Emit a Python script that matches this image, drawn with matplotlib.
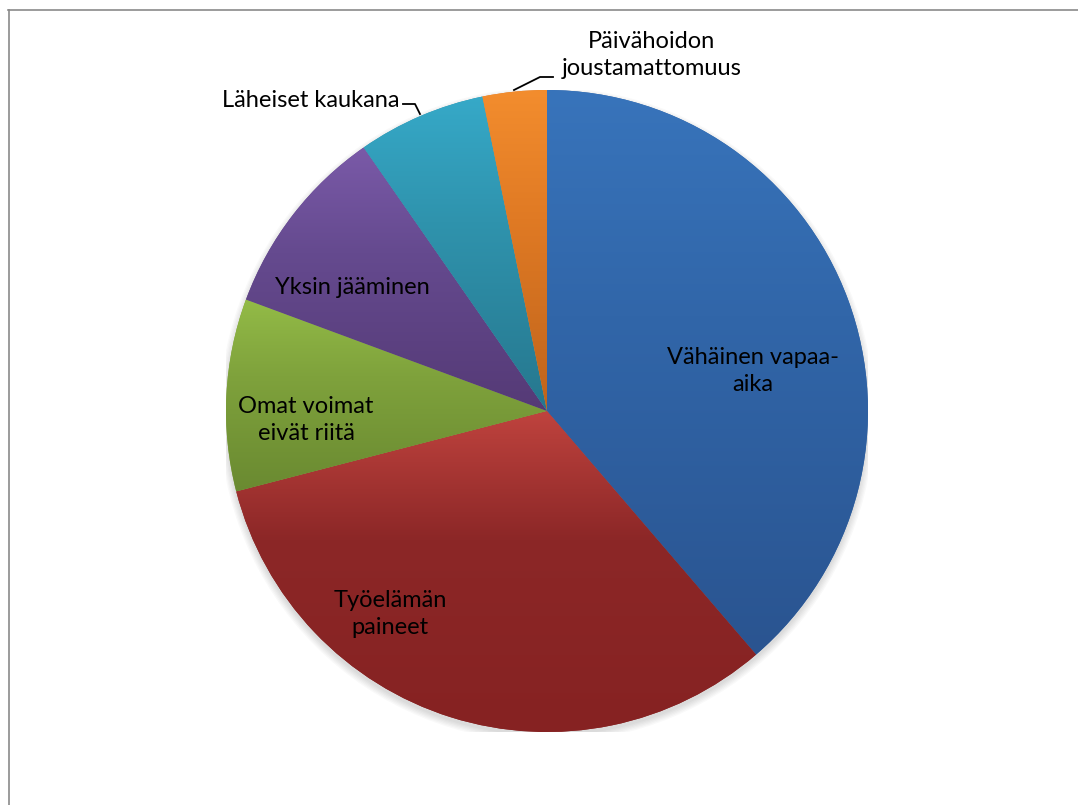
import numpy as np
import matplotlib
matplotlib.use("Agg")
import matplotlib.pyplot as plt
from matplotlib.lines import Line2D
from matplotlib.patches import Circle
from matplotlib.colors import to_rgb

# ---- data ----
categories = ["Vähäinen vapaa-\naika", "Työelämän\npaineet", "Omat voimat\neivät riitä",
              "Yksin jääminen", "Läheiset kaukana", "Päivähoidon\njoustamattomuus"]
values = [12, 10, 3, 3, 2, 1]

# ---- styles ----
light_colors = ["#3874bb", "#bf433e", "#93bb47", "#7a5aa8", "#36a9c8", "#f38d2e"]
mid_colors   = ["#3166a9", "#8c2727", "#7fa23c", "#654a8f", "#2f93ad", "#e07a24"]
dark_colors  = ["#2a5490", "#862222", "#6a8a31", "#553a76", "#26778e", "#bf641c"]

W, H = 1078, 805
CX, CY, R = 547, 411, 321

fig = plt.figure(figsize=(W / 100, H / 100), dpi=100)
ax = fig.add_axes([(CX - R) / W, (H - CY - R) / H, 2 * R / W, 2 * R / H])

def px(x, y):
    return (x - CX) / R, (CY - y) / R

# soft shadow
for k in range(6):
    ax.add_patch(Circle((0.0, -0.012), 1.0 + 0.004 * k, facecolor="#000000",
                        edgecolor="none", alpha=0.025, zorder=0))

wedges, _ = ax.pie(values, startangle=90, counterclock=False, radius=1,
                   colors=mid_colors, wedgeprops=dict(linewidth=0))

for w, lc, mc, dc in zip(wedges, light_colors, mid_colors, dark_colors):
    w.set_zorder(1)
    ext = w.get_path().get_extents()
    n = 256
    t = np.linspace(0, 1, n)[:, None]
    l, m, d = np.array(to_rgb(lc)), np.array(to_rgb(mc)), np.array(to_rgb(dc))
    s1 = np.clip(t / 0.4, 0, 1)
    s2 = np.clip((t - 0.4) / 0.6, 0, 1)
    col = np.where(t < 0.4, l * (1 - s1) + m * s1, m * (1 - s2) + d * s2)
    img = ax.imshow(col[:, None, :], extent=[ext.x0, ext.x1, ext.y0, ext.y1],
                    origin="upper", aspect="auto", zorder=2, interpolation="bilinear")
    img.set_clip_path(w)

ax.set_xlim(-1, 1)
ax.set_ylim(-1, 1)
ax.set_aspect("equal")
ax.axis("off")

font = dict(family=["Lato", "DejaVu Sans"], fontsize=17, color="#000000")

# inside labels (pixel positions)
inside_pos = [(753, 371), (390, 614), (306, 420), (352, 287)]
for lab, (x, y) in zip(categories[:4], inside_pos):
    ax.text(*px(x, y), lab, ha="center", va="center", linespacing=1.3,
            zorder=5, clip_on=False, **font)

# outside labels
ax.text(*px(399, 100), categories[4], ha="right", va="center", zorder=5, clip_on=False, **font)
xs, ys = zip(*[px(403, 104), px(415, 104), px(420, 114)])
ax.add_line(Line2D(xs, ys, color="black", lw=1.3, zorder=6, clip_on=False))

ax.text(*px(652, 55), categories[5], ha="center", va="center", linespacing=1.3,
        zorder=5, clip_on=False, **font)
xs, ys = zip(*[px(553, 77), px(540, 77), px(514, 90)])
ax.add_line(Line2D(xs, ys, color="black", lw=1.3, zorder=6, clip_on=False))

# chart-area border (top and left edges visible)
fig.add_artist(Line2D([8 / W, 1.0], [1 - 10.5 / H, 1 - 10.5 / H],
                      transform=fig.transFigure, color="#8a8a8a", lw=1.2))
fig.add_artist(Line2D([8.5 / W, 8.5 / W], [0, 1 - 10.5 / H],
                      transform=fig.transFigure, color="#8a8a8a", lw=1.2))

fig.savefig("out.png", dpi=100)
